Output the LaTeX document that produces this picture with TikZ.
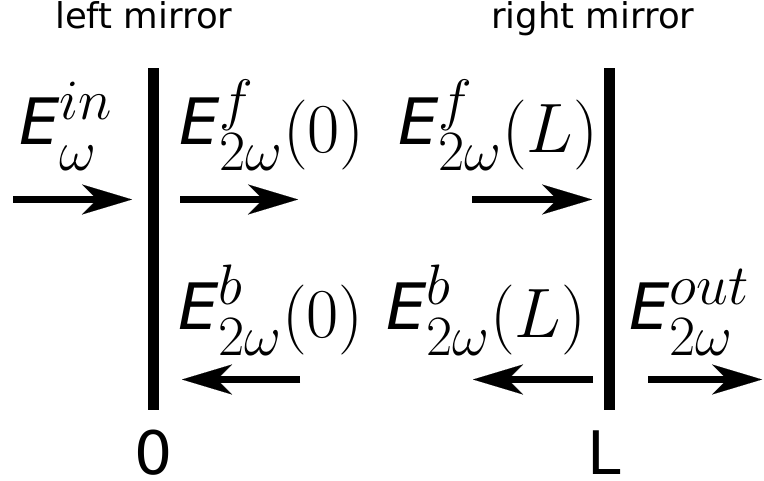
\RequirePackage{fix-cm}
\documentclass[tikz,border=0pt]{standalone}
\usepackage{fontspec}
\newfontfamily\dvs{DejaVu Sans}
\usetikzlibrary{arrows.meta}
\DeclareMathSizes{70}{70}{57}{45}
\newcommand{\EE}{\raisebox{8.5pt}{\dvs\itshape\fontsize{64}{64}\selectfont E}}
\begin{document}
\begin{tikzpicture}[x=1pt,y=-1pt,
  mirror/.style={rectangle, fill=black, draw=none, minimum width=11pt, minimum height=342pt, inner sep=0pt},
  ray/.style={line width=7pt, -{Stealth[length=50pt,width=30pt,inset=15pt,line width=0.1pt]}},
  lab/.style={anchor=base west, inner sep=0pt, font=\fontsize{70}{80}\selectfont},
  word/.style={anchor=base west, inner sep=0pt, font=\dvs\fontsize{35.5}{40}\selectfont},
  posn/.style={inner sep=0pt, font=\dvs\fontsize{60}{70}\selectfont}]
\useasboundingbox (0,0) rectangle (764,481);
% mirrors
\node[mirror] (lm) at (153,239) {};
\node[mirror] (rm) at (609,239) {};
\node[word] (lmt) at (55,29) {left mirror};
\node[word] (rmt) at (491,29) {right mirror};
\node[posn, anchor=base] (zero) at (153.5,475) {0};
\node[posn, anchor=base west] (ell) at (587,475) {L};
% arrow end points
\coordinate (a1s) at (13,199.5);  \coordinate (a1e) at (132,199.5);
\coordinate (a2s) at (180,199.5); \coordinate (a2e) at (298,199.5);
\coordinate (a3s) at (472,199.5); \coordinate (a3e) at (592,199.5);
\coordinate (a4s) at (300,379.5); \coordinate (a4e) at (182,379.5);
\coordinate (a5s) at (593,379.5); \coordinate (a5e) at (473,379.5);
\coordinate (a6s) at (648,379.5); \coordinate (a6e) at (762,379.5);
\draw[ray] (a1s) -- (a1e);
\draw[ray] (a2s) -- (a2e);
\draw[ray] (a3s) -- (a3e);
\draw[ray] (a4s) -- (a4e);
\draw[ray] (a5s) -- (a5e);
\draw[ray] (a6s) -- (a6e);
% labels
\node[lab] (l1) at (19,153) {$\EE^{in}_{\omega}$};
\node[lab] (l2) at (179,153) {$\EE^{f}_{2\omega}(0)$};
\node[lab] (l3) at (398,153) {$\EE^{f}_{2\omega}(L)$};
\node[lab] (l4) at (178,338) {$\EE^{b}_{2\omega}(0)$};
\node[lab] (l5) at (386,338) {$\EE^{b}_{2\omega}(L)$};
\node[lab] (l6) at (629,338) {$\EE^{out}_{2\omega}$};
\end{tikzpicture}
\end{document}
